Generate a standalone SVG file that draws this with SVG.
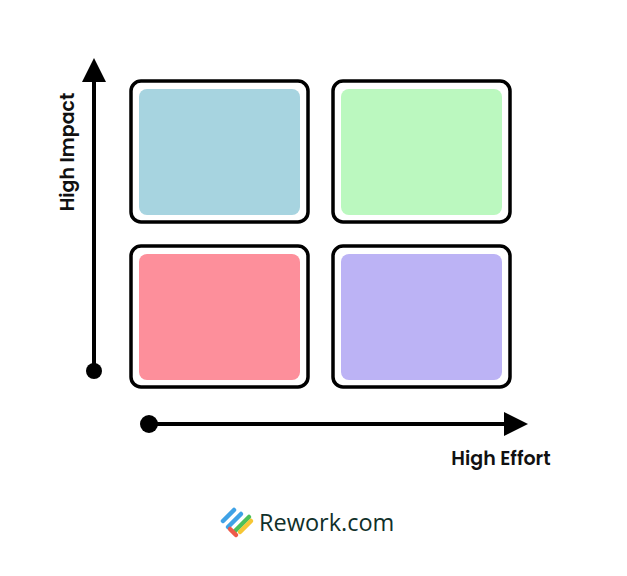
<svg xmlns="http://www.w3.org/2000/svg" width="627" height="576" viewBox="0 0 627 576">
<style>
.o{fill:#fff;stroke:#000;stroke-width:3.5}
.l{font-family:Poppins,"Open Sans","Liberation Sans",sans-serif;font-weight:600;font-size:19px;fill:#111}
.s{stroke-width:4.5;stroke-linecap:round;fill:none}
</style>
<defs><marker id="a" markerWidth="6" markerHeight="6" refX="1" refY="3" orient="auto" markerUnits="strokeWidth"><path d="M0,0 L6,3 L0,6z" fill="#000"/></marker></defs>
<rect width="627" height="576" fill="#fff"/>
<g id="n1"><rect class="o" x="131" y="81" width="177" height="141" rx="10"/><rect x="139" y="89" width="161" height="126" rx="8" fill="#a7d4e0"/></g>
<g id="n2"><rect class="o" x="333" y="81" width="177" height="141" rx="10"/><rect x="341" y="89" width="161" height="126" rx="8" fill="#bbf8bf"/></g>
<g id="n3"><rect class="o" x="131" y="246" width="177" height="141" rx="10"/><rect x="139" y="254" width="161" height="126" rx="8" fill="#fd8f9b"/></g>
<g id="n4"><rect class="o" x="333" y="246" width="177" height="141" rx="10"/><rect x="341" y="254" width="161" height="126" rx="8" fill="#bcb3f5"/></g>
<g id="connectors">
<line x1="94" y1="371" x2="94" y2="78" stroke="#000" stroke-width="4" marker-end="url(#a)"/>
<circle cx="94" cy="371" r="8" fill="#000"/>
<line x1="149" y1="424" x2="508" y2="424" stroke="#000" stroke-width="4" marker-end="url(#a)"/>
<circle cx="149" cy="424" r="9" fill="#000"/>
</g>
<text class="l" transform="translate(74,152) rotate(-90)" text-anchor="middle">High Impact</text>
<text class="l" x="501" y="465" text-anchor="middle">High Effort</text>
<g id="logo">
<line class="s" stroke="#3fa2e6" x1="223" y1="521" x2="234" y2="510"/>
<line class="s" stroke="#3fa2e6" x1="228" y1="527" x2="241" y2="514"/>
<line class="s" stroke="#4cc05a" x1="234" y1="532" x2="249" y2="517"/>
<line class="s" stroke="#f6c634" x1="240" y1="532" x2="251" y2="521"/>
<line class="s" stroke="#ee5a4a" x1="230" y1="529" x2="236" y2="535"/>
<text x="259" y="531" font-family="'Open Sans','Liberation Sans',sans-serif" font-size="23.5" fill="#10302a">Rework.com</text>
</g>
</svg>
